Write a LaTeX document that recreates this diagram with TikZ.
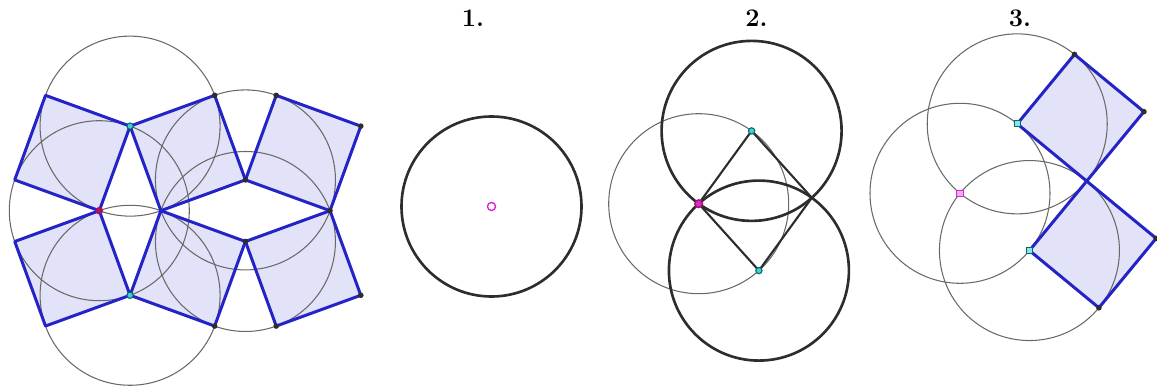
\documentclass[tikz,border=0pt]{standalone}
\usepackage{xcolor}
\usepackage{tikz}
\usetikzlibrary{calc, positioning}
\definecolor{mydark}{RGB}{45,45,45}
\definecolor{mygray}{RGB}{105,105,105}
\definecolor{myblue}{RGB}{35,35,200}
\definecolor{hdrblue}{RGB}{226,226,248}
\definecolor{mymagenta}{RGB}{215,40,215}
\definecolor{hdrmagenta}{RGB}{240,170,240}
\definecolor{mycrimson}{RGB}{165,20,95}
\definecolor{mycyan}{RGB}{70,205,215}
\definecolor{myteal}{RGB}{0,105,105}
\tikzset{
  thincirc/.style={draw=mygray, line width=0.6pt},
  thickcirc/.style={draw=mydark, line width=1.5pt},
  sqfill/.style={fill=hdrblue},
  sqedge/.style={draw=myblue, line width=1.7pt, line join=round},
  rhedge/.style={draw=mydark, line width=1.2pt, line join=round},
  vdot/.style={circle, fill=mydark, inner sep=0pt, minimum size=3.2pt},
  cyanpt/.style={circle, draw=myteal, fill=mycyan, line width=0.6pt,
    inner sep=0pt, minimum size=3.6pt},
  cyansq/.style={rectangle, draw=myteal, fill=mycyan!60, line width=0.6pt,
    inner sep=0pt, minimum size=3.4pt},
  ringpt/.style={circle, draw=mymagenta, fill=white, line width=0.8pt,
    inner sep=0pt, minimum size=4.6pt},
  magpt/.style={circle, draw=mycrimson, fill=mymagenta, line width=0.8pt,
    inner sep=0pt, minimum size=4.4pt},
  crimpt/.style={circle, fill=mycrimson, inner sep=0pt, minimum size=4.4pt},
  magsq/.style={rectangle, draw=mymagenta, fill=hdrmagenta, line width=0.6pt,
    inner sep=0pt, minimum size=3.6pt},
  steplabel/.style={font=\Large\bfseries}
}

\begin{document}
\begin{tikzpicture}
  \useasboundingbox (0,0) rectangle (23.14,7.78);
  % left figure: two rhombi with six squares
  \coordinate (P) at (1.986,3.566);
  \coordinate (Ca) at ($(P)+(70:1.8)$);
  \coordinate (Cb) at ($(P)+(-70:1.8)$);
  \coordinate (Q) at ($(Ca)+(-70:1.8)$);
  \coordinate (U) at ($(Q)+(20:1.8)$);
  \coordinate (D) at ($(Q)+(-20:1.8)$);
  \coordinate (R) at ($(U)+(-20:1.8)$);
  \coordinate (o1) at ($(Ca)+(160:1.8)$);
  \coordinate (o2) at ($(P)+(160:1.8)$);
  \coordinate (o3) at ($(Cb)+(200:1.8)$);
  \coordinate (o4) at ($(P)+(200:1.8)$);
  \coordinate (o5) at ($(Ca)+(20:1.8)$);
  \coordinate (o6) at ($(Cb)+(-20:1.8)$);
  \coordinate (o7) at ($(R)+(70:1.8)$);
  \coordinate (o8) at ($(U)+(70:1.8)$);
  \coordinate (o9) at ($(R)+(-70:1.8)$);
  \coordinate (o10) at ($(D)+(-70:1.8)$);
  \foreach \a/\b/\c/\d in {P/Ca/o1/o2, P/Cb/o3/o4, Ca/Q/U/o5, Cb/Q/D/o6, U/R/o7/o8, D/R/o9/o10}
    \fill[sqfill] (\a) -- (\b) -- (\c) -- (\d) -- cycle;
  \foreach \c in {P,Ca,Cb,U,D}
    \draw[thincirc] (\c) circle (1.8);
  \foreach \a/\b/\c/\d in {P/Ca/o1/o2, P/Cb/o3/o4, Ca/Q/U/o5, Cb/Q/D/o6, U/R/o7/o8, D/R/o9/o10}
    \draw[sqedge] (\a) -- (\b) -- (\c) -- (\d) -- cycle;
  \foreach \c in {o5,o6,o7,o8,o9,o10,U,D,R}
    \node[vdot] (dot\c) at (\c) {};
  \node[crimpt] (ptP) at (P) {};
  \node[cyanpt] (ptCa) at (Ca) {};
  \node[cyanpt] (ptCb) at (Cb) {};

  % step 1
  \node[steplabel] (lab1) at (9.46,7.42) {1.};
  \coordinate (M1) at (9.83,3.65);
  \draw[thickcirc] (M1) circle (1.8);
  \node[ringpt] (ptM1) at (M1) {};

  % step 2
  \node[steplabel] (lab2) at (15.13,7.42) {2.};
  \coordinate (M2) at (13.974,3.706);
  \coordinate (T2) at ($(M2)+(54:1.8)$);
  \coordinate (B2) at ($(M2)+(-48:1.8)$);
  \coordinate (R2) at ($(T2)+(-48:1.8)$);
  \draw[thincirc] (M2) circle (1.8);
  \draw[thickcirc] (T2) circle (1.8);
  \draw[thickcirc] (B2) circle (1.8);
  \draw[rhedge] (M2) -- (T2) -- (R2) -- (B2) -- cycle;
  \node[magpt] (ptM2) at (M2) {};
  \node[cyanpt] (ptT2) at (T2) {};
  \node[cyanpt] (ptB2) at (B2) {};

  % step 3
  \node[steplabel] (lab3) at (20.4,7.42) {3.};
  \coordinate (M3) at (19.2,3.914);
  \coordinate (T3) at ($(M3)+(50.5:1.8)$);
  \coordinate (B3) at ($(M3)+(-39.5:1.8)$);
  \coordinate (X3) at ($(T3)+(-39.5:1.8)$);
  \coordinate (K1) at ($(T3)+(50.5:1.8)$);
  \coordinate (K2) at ($(K1)+(-39.5:1.8)$);
  \coordinate (L1) at ($(X3)+(-39.5:1.8)$);
  \coordinate (L2) at ($(B3)+(-39.5:1.8)$);
  \fill[sqfill] (T3) -- (K1) -- (K2) -- (X3) -- cycle;
  \fill[sqfill] (B3) -- (X3) -- (L1) -- (L2) -- cycle;
  \foreach \c in {M3,T3,B3}
    \draw[thincirc] (\c) circle (1.8);
  \draw[sqedge] (T3) -- (K1) -- (K2) -- (X3) -- cycle;
  \draw[sqedge] (B3) -- (X3) -- (L1) -- (L2) -- cycle;
  \foreach \c in {K1,K2,L1,L2}
    \node[vdot] (dot\c) at (\c) {};
  \node[magsq] (ptM3) at (M3) {};
  \node[cyansq] (ptT3) at (T3) {};
  \node[cyansq] (ptB3) at (B3) {};
\end{tikzpicture}
\end{document}
